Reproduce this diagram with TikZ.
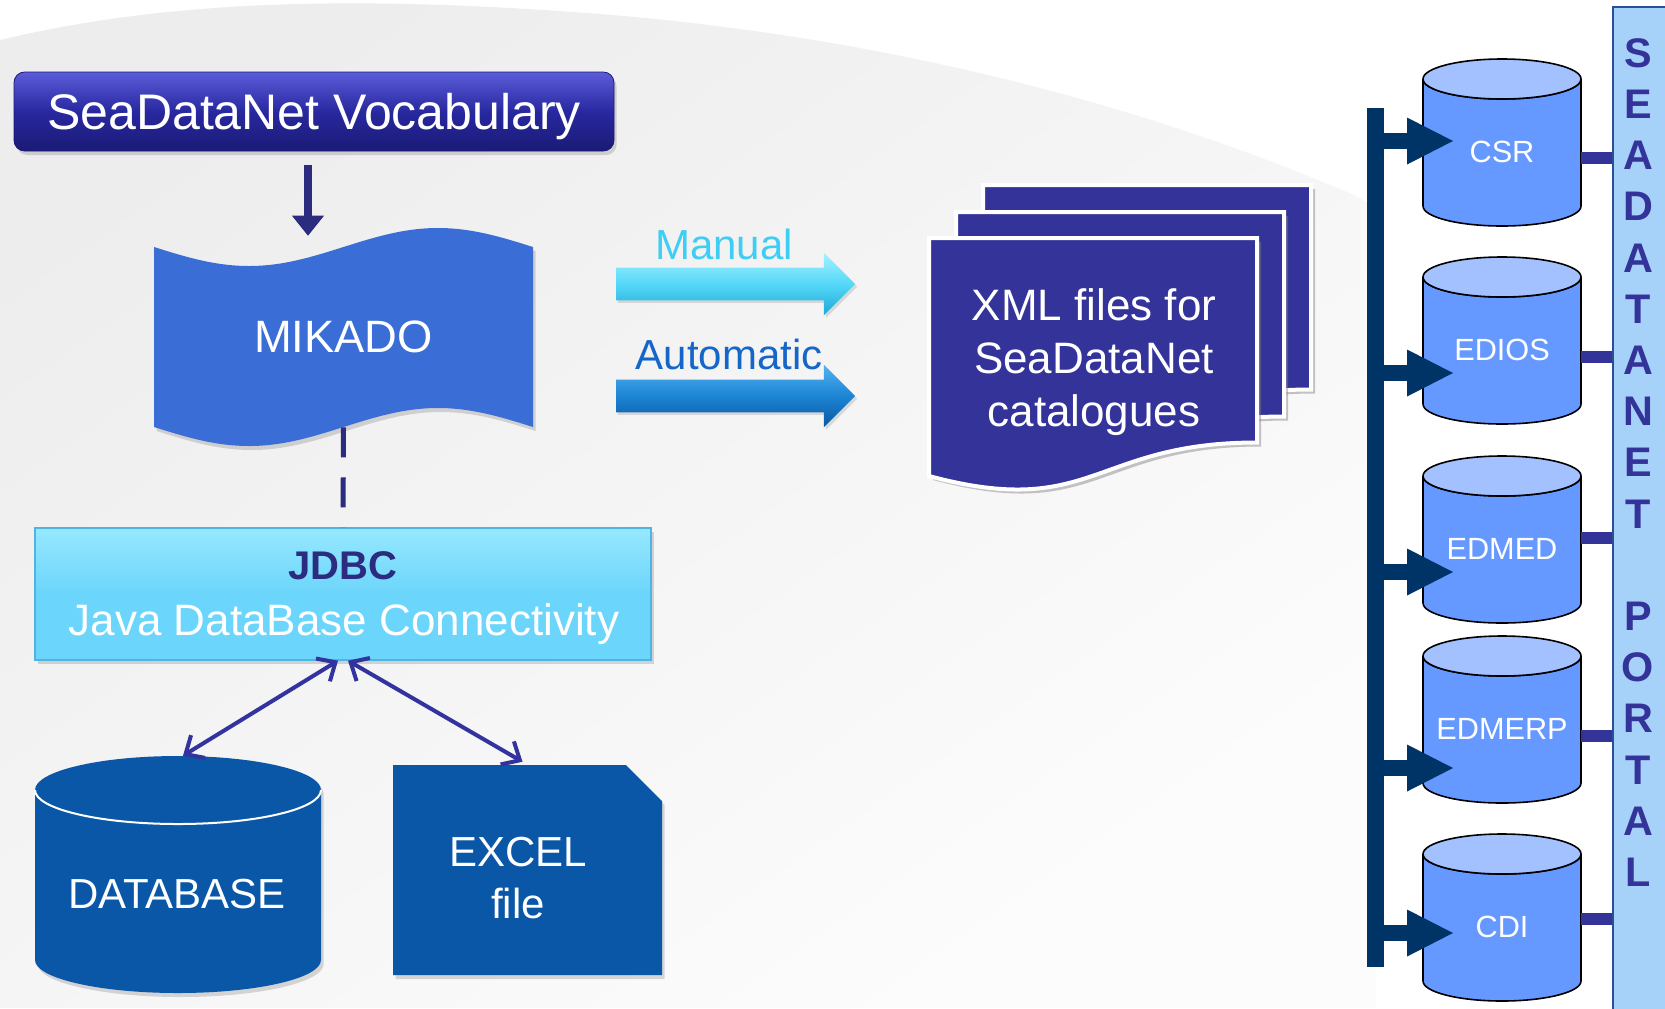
\documentclass[tikz,border=0pt]{standalone}
\usepackage{fontspec}
\setmainfont{Liberation Sans}
\usetikzlibrary{arrows.meta, calc, positioning, shadows, shapes.arrows}

\definecolor{vocabblue}{RGB}{40,40,160}
\definecolor{vocabtop}{RGB}{92,92,218}
\definecolor{vocabbot}{RGB}{26,26,118}
\definecolor{navyarrow}{RGB}{43,43,128}
\definecolor{mikadoblue}{RGB}{58,110,214}
\definecolor{jdbccyan}{RGB}{108,213,251}
\definecolor{jdbctop}{RGB}{150,232,255}
\definecolor{jdbcedge}{RGB}{80,180,225}
\definecolor{linkblue}{RGB}{51,51,160}
\definecolor{storeblue}{RGB}{10,87,168}
\definecolor{xmlindigo}{RGB}{51,51,153}
\definecolor{manualcyan}{RGB}{85,216,248}
\definecolor{manualtop}{RGB}{165,242,255}
\definecolor{manualbot}{RGB}{30,168,214}
\definecolor{manuallabel}{RGB}{62,206,245}
\definecolor{autoblue}{RGB}{28,132,212}
\definecolor{autotop}{RGB}{84,178,242}
\definecolor{autobot}{RGB}{10,88,158}
\definecolor{autolabel}{RGB}{20,102,200}
\definecolor{busnavy}{RGB}{0,51,102}
\definecolor{cylbodyc}{RGB}{102,153,255}
\definecolor{cyltopc}{RGB}{163,193,255}
\definecolor{portalfill}{RGB}{166,209,249}
\definecolor{portaledge}{RGB}{40,80,150}

\tikzset{
    backdrop/.style={top color=gray!14, bottom color=gray!2, shading angle=35},
    softshadow/.style={drop shadow={shadow xshift=2pt, shadow yshift=-3pt, opacity=.3}},
    vocabbox/.style={rounded corners=8pt, top color=vocabtop, bottom color=vocabbot,
        middle color=vocabblue, draw=vocabbot, line width=.6pt, softshadow,
        minimum width=450pt, minimum height=59.25pt, inner sep=0pt,
        text=white, text depth=0pt, font=\fontsize{37.5}{45}\selectfont},
    feedarrow/.style={draw=navyarrow, line width=6pt,
        -{Triangle[length=15pt, width=24pt, line width=0pt]}},
    mikadofill/.style={fill=mikadoblue, softshadow},
    mikadonode/.style={inner sep=0pt, minimum width=284.25pt, minimum height=135pt,
        text=white, text depth=0pt, font=\fontsize{34}{40}\selectfont},
    dashlink/.style={draw=navyarrow, line width=3.75pt, dash pattern=on 22.5pt off 15pt},
    jdbcbox/.style={top color=jdbctop, bottom color=jdbccyan, middle color=jdbccyan,
        draw=jdbcedge, line width=1pt, softshadow,
        minimum width=462pt, minimum height=99pt, inner sep=0pt},
    jdbctitle/.style={text=navyarrow, font=\bfseries\fontsize{30}{36}\selectfont,
        inner sep=0pt, text depth=0pt},
    jdbcsub/.style={text=white, font=\fontsize{33}{40}\selectfont, inner sep=0pt, text depth=0pt},
    duplex/.style={draw=linkblue, line width=3pt,
        {Straight Barb[length=11pt, width=20pt]}-{Straight Barb[length=11pt, width=20pt]}},
    storefill/.style={fill=storeblue, softshadow},
    storearea/.style={inner sep=0pt},
    storetext/.style={text=white, font=\fontsize{31.5}{39}\selectfont, inner sep=0pt, text depth=0pt},
    rimline/.style={draw=white, line width=1.5pt},
    manualtag/.style={text=manuallabel, font=\fontsize{31.5}{38}\selectfont, inner sep=0pt, text depth=0pt},
    autotag/.style={text=autolabel, font=\fontsize{31.5}{38}\selectfont, inner sep=0pt, text depth=0pt},
    blockarrow/.style={single arrow, single arrow head extend=11.25pt, single arrow tip angle=90,
        minimum height=179.25pt, minimum width=46.5pt, inner xsep=0pt, inner ysep=12pt,
        drop shadow={shadow xshift=1.5pt, shadow yshift=-2pt, opacity=.25}},
    manualshade/.style={top color=manualtop, bottom color=manualbot, middle color=manualcyan},
    autoshade/.style={top color=autotop, bottom color=autobot, middle color=autoblue},
    xmlsheet/.style={fill=xmlindigo, draw=white, line width=3pt,
        drop shadow={shadow xshift=3pt, shadow yshift=-3pt, opacity=.45}},
    xmltext/.style={text=white, align=center, font=\fontsize{33}{39.75}\selectfont,
        inner sep=0pt, text depth=0pt},
    busbar/.style={draw=busnavy, line width=12.75pt},
    busarrow/.style={draw=busnavy, line width=12pt,
        -{Triangle[length=34.5pt, width=35.25pt, line width=0pt]}},
    cylside/.style={fill=cylbodyc, draw=black, line width=1.2pt},
    cylcap/.style={fill=cyltopc, draw=black, line width=1.2pt},
    cyllabel/.style={text=white, font=\fontsize{23}{28}\selectfont, inner sep=0pt, text depth=0pt},
    portalbox/.style={fill=portalfill, draw=portaledge, line width=1.2pt,
        minimum width=46.5pt, minimum height=756pt, inner sep=0pt},
    portalletter/.style={text=xmlindigo, font=\bfseries\fontsize{31}{36}\selectfont,
        inner sep=0pt, text depth=0pt},
    portallink/.style={draw=xmlindigo, line width=9pt}
}

\begin{document}
\begin{tikzpicture}[x=0.75pt, y=-0.75pt]
    \useasboundingbox (0,0) rectangle (1665,1008);
    \fill[white] (0,0) rectangle (1665,1008);
    \shade[backdrop] (0,40) .. controls (160,2) and (340,-6) .. (600,14)
        .. controls (900,38) and (1150,110) .. (1330,185)
        .. controls (1360,197) and (1376,205) .. (1376,215) -- (1376,1008) -- (0,1008) -- cycle;

    % vocabulary and mikado
    \node[vocabbox] (vocab) at (314,111.5) {SeaDataNet Vocabulary};
    \fill[mikadofill] (154,247) sin (249,266) cos (343.5,247) sin (438,228) cos (533,247)
        -- (533,427) sin (438,408) cos (343.5,427) sin (249,446) cos (154,427) -- cycle;
    \node[mikadonode] (mikado) at (343.5,337) {MIKADO};
    \draw[feedarrow] ($(vocab.south)+(-6,14)$) -- ($(mikado.north)+(-35.5,-11)$);

    % jdbc layer
    \node[jdbcbox] (jdbc) at (343,594) {};
    \node[jdbctitle] (jdbcname) at (343,566) {JDBC};
    \node[jdbcsub] (jdbcfull) at (344,620) {Java DataBase Connectivity};
    \draw[dashlink] (mikado.south) -- (jdbc.north);

    % sources
    \fill[storefill] (35,790) arc[start angle=180, end angle=360, x radius=143, y radius=34]
        -- (321,960) arc[start angle=0, end angle=180, x radius=143, y radius=33] -- cycle;
    \draw[rimline] (35,790) arc[start angle=180, end angle=0, x radius=143, y radius=34];
    \node[storearea, minimum width=214.5pt, minimum height=177.75pt] (database) at (178,874.5) {};
    \node[storetext] (dbtext) at (177,894) {DATABASE};

    \fill[storefill] (393,765) -- (626,765) -- (662,801) -- (662,975) -- (393,975) -- cycle;
    \node[storearea, minimum width=201.75pt, minimum height=157.5pt] (excel) at (527.5,870) {};
    \node[storetext, align=center] (exceltext) at (518,878) {EXCEL\\file};

    \draw[duplex] ($(jdbc.south)+(-5,0)$) -- ($(database.north)+(5,0)$);
    \draw[duplex] ($(jdbc.south)+(5,0)$) -- ($(excel.north)+(-5,-3)$);

    % export
    \node[manualtag] (manual) at (724,244) {Manual};
    \node[blockarrow, manualshade] (manualarrow) at (727.5,284) {};
    \node[autotag] (automatic) at (729,354) {Automatic};
    \node[blockarrow, autoshade] (autoarrow) at (727.5,396) {};

    \foreach \dx/\dy in {54/-53, 27/-26, 0/0}{
        \begin{scope}[shift={(\dx,\dy)}]
            \filldraw[xmlsheet] (929,238) -- (1257,238) -- (1257,442.5)
                .. controls (1093,442.5) and (1093,520) .. (929,476) -- cycle;
        \end{scope}
    }
    \node[xmltext] (xmlfiles) at (1094,358) {XML files for\\SeaDataNet\\catalogues};

    % portal side
    \coordinate (bustop) at (1375.5,108);
    \coordinate (busbot) at (1375.5,967);
    \draw[busbar] (bustop) -- (busbot);
    \node[portalbox] (portal) at (1644,511) {};

    \foreach \name/\lab/\cy/\ay/\ly in {csr/CSR/79/62/79, edios/EDIOS/277/96/80,
            edmed/EDMED/476/96/62, edmerp/EDMERP/656/112/80, cdi/CDI/854/79/65}{
        \begin{scope}[shift={(1502,\cy)}]
            \filldraw[cylside] (-79,0) -- (-79,127)
                arc[start angle=180, end angle=0, x radius=79, y radius=20]
                -- (79,0) arc[start angle=0, end angle=180, x radius=79, y radius=20] -- cycle;
            \filldraw[cylcap] (0,0) ellipse[x radius=79, y radius=20];
            \node[cyllabel] (\name) at (0,73) {\lab};
            \coordinate (\name-in) at (-49,\ay);
            \coordinate (\name-out) at (79,\ly);
        \end{scope}
        \draw[busarrow] (bustop |- \name-in) -- (\name-in);
        \draw[portallink] (\name-out) -- (portal.west |- \name-out);
    }

    \foreach \ch [count=\i from 0] in {S,E,A,D,A,T,A,N,E,T}
        \node[portalletter] (top\i) at (1638,{53+51.2*\i}) {\ch};
    \foreach \ch [count=\i from 11] in {P,O,R,T,A,L}
        \node[portalletter] (low\i) at (1638,{53+51.2*\i}) {\ch};
\end{tikzpicture}
\end{document}
